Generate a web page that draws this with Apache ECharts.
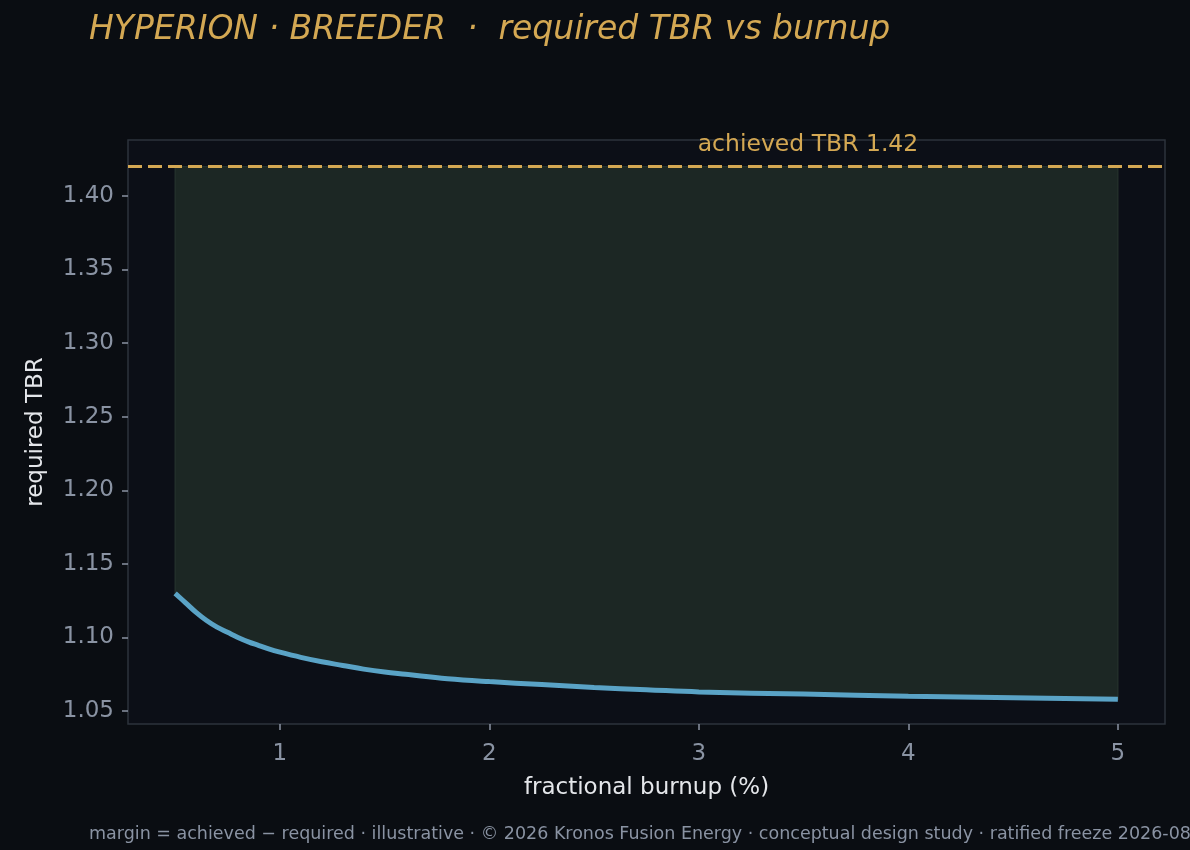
<!DOCTYPE html>
<html>
<head>
<meta charset="utf-8">
<script src="https://cdn.jsdelivr.net/npm/echarts@6/dist/echarts.min.js"></script>
<style>
  html, body { margin: 0; padding: 0; background: #0a0d12; }
  #chart { width: 1190px; height: 850px; }
</style>
</head>
<body>
<div id="chart"></div>
<script>
// values
const burnup = [0.5, 0.55, 0.6, 0.65, 0.7, 0.75, 0.8, 0.85, 0.9, 0.95, 1.0, 1.1, 1.2, 1.3, 1.4, 1.5, 1.6, 1.8, 2.0, 2.25, 2.5, 2.75, 3.0, 3.5, 4.0, 4.5, 5.0];
const requiredTBR = [1.130, 1.1235, 1.117, 1.1115, 1.107, 1.1035, 1.100, 1.097, 1.0945, 1.092, 1.090, 1.0865, 1.0835, 1.081, 1.0785, 1.0765, 1.075, 1.072, 1.070, 1.068, 1.066, 1.0645, 1.063, 1.0615, 1.060, 1.059, 1.058];
const achievedTBR = 1.42;
const xTicks = [1, 2, 3, 4, 5];
const yTicks = [1.05, 1.10, 1.15, 1.20, 1.25, 1.30, 1.35, 1.40];

const FONT = "DejaVu Sans";
const GOLD = "#d4a853";
const MUTED = "#8a93a3";

const chart = echarts.init(document.getElementById("chart"), null, { renderer: "canvas" });

const curveData = burnup.map((x, i) => [x, requiredTBR[i]]);

// margin band between the required curve and the achieved line
function renderBand(params, api) {
  const top = burnup.map(x => api.coord([x, achievedTBR]));
  const bottom = burnup.map((x, i) => api.coord([x, requiredTBR[i]])).reverse();
  return {
    type: "polygon",
    shape: { points: top.concat(bottom) },
    style: { fill: "#1c2724", stroke: "#26332d", lineWidth: 1.2 }
  };
}

chart.setOption({
  backgroundColor: "#0a0d12",
  animation: false,
  title: {
    text: "HYPERION · BREEDER  ·  required TBR vs burnup",
    left: 84,
    top: 9,
    textStyle: { color: GOLD, fontFamily: FONT, fontStyle: "italic", fontWeight: "normal", fontSize: 33 }
  },
  grid: {
    left: 128, right: 25, top: 140, bottom: 126,
    show: true, backgroundColor: "#0c0f17", borderColor: "#2d333c", borderWidth: 1.5
  },
  xAxis: {
    type: "value",
    min: 0.275, max: 5.225,
    name: "fractional burnup (%)",
    nameLocation: "middle",
    nameGap: 53,
    nameTextStyle: { color: "#e4e6ea", fontFamily: FONT, fontSize: 23 },
    axisLine: { show: false },
    splitLine: { show: false },
    axisTick: { show: true, length: 6, lineStyle: { color: MUTED, width: 1.5 }, customValues: xTicks },
    axisLabel: { color: MUTED, fontFamily: FONT, fontSize: 23, margin: 19, customValues: xTicks }
  },
  yAxis: {
    type: "value",
    min: 1.0412, max: 1.438,
    name: "required TBR",
    nameLocation: "middle",
    nameGap: 80,
    nameRotate: 90,
    nameTextStyle: { color: "#e4e6ea", fontFamily: FONT, fontSize: 23 },
    axisLine: { show: false },
    splitLine: { show: false },
    axisTick: { show: true, length: 6, lineStyle: { color: MUTED, width: 1.5 }, customValues: yTicks },
    axisLabel: { color: MUTED, fontFamily: FONT, fontSize: 23, margin: 14, formatter: v => v.toFixed(2), customValues: yTicks }
  },
  graphic: [
    {
      type: "text", left: 89, top: 825,
      style: {
        text: "margin = achieved − required · illustrative · © 2026 Kronos Fusion Energy · conceptual design study · ratified freeze 2026-08",
        fill: MUTED, font: "17.5px 'DejaVu Sans'"
      }
    },
    {
      type: "text", x: 808, y: 145,
      style: { text: "achieved TBR 1.42", fill: GOLD, font: "23.5px 'DejaVu Sans'", align: "center", verticalAlign: "middle" }
    }
  ],
  series: [
    {
      type: "custom", renderItem: renderBand, data: [curveData[0]], clip: true, z: 1, silent: true
    },
    {
      type: "line", data: curveData, smooth: 0.4, symbol: "none",
      lineStyle: { color: "#5aa3c6", width: 5 }, z: 3,
      markLine: {
        silent: true, symbol: "none", z: 4,
        label: { show: false },
        lineStyle: { color: GOLD, type: [14, 6], width: 3 },
        data: [{ yAxis: achievedTBR }]
      }
    }
  ]
});
</script>
</body>
</html>
